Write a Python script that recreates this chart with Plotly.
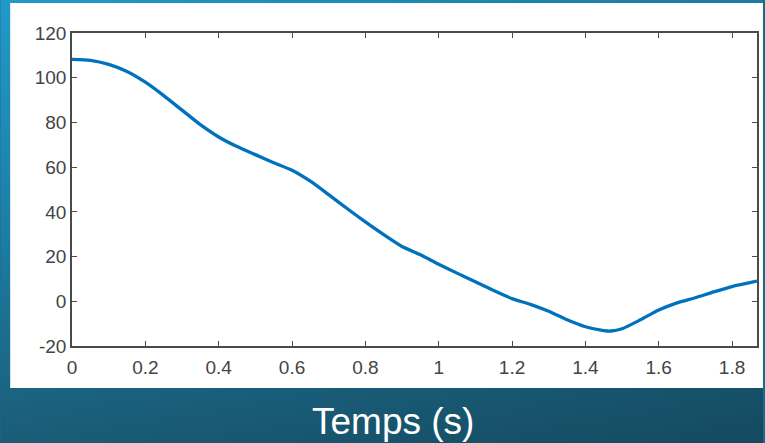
import base64
import plotly.graph_objects as go

# ---- data ----
time_s = [0.00, 0.05, 0.10, 0.15, 0.20, 0.25, 0.30, 0.35, 0.40, 0.45, 0.50, 0.55,
          0.60, 0.65, 0.70, 0.75, 0.80, 0.85, 0.90, 0.95, 1.00, 1.05, 1.10, 1.15,
          1.20, 1.25, 1.30, 1.35, 1.40, 1.45, 1.47, 1.50, 1.55, 1.60, 1.65, 1.70,
          1.75, 1.80, 1.868]
values = [108.2, 107.8, 106.0, 102.8, 98.0, 92.0, 85.5, 79.0, 73.5, 69.2, 65.6, 62.0,
          58.6, 53.7, 47.7, 41.5, 35.5, 29.8, 24.5, 20.8, 16.6, 12.6, 8.7, 4.8,
          1.2, -1.4, -4.5, -8.3, -11.4, -13.1, -13.3, -12.3, -8.3, -3.9, -0.7, 1.6,
          4.2, 6.6, 9.0]
x_ticks = [0, 0.2, 0.4, 0.6, 0.8, 1.0, 1.2, 1.4, 1.6, 1.8]
x_tick_labels = ["0", "0.2", "0.4", "0.6", "0.8", "1", "1.2", "1.4", "1.6", "1.8"]
y_ticks = [-20, 0, 20, 40, 60, 80, 100, 120]
y_tick_labels = ["-20", "0", "20", "40", "60", "80", "100", "120"]
x_title = "Temps (s)"

W, H = 765, 443
L, R, T, B = 72, 6, 33, 97
pw, ph = W - L - R, H - T - B

svg = f'''<svg xmlns="http://www.w3.org/2000/svg" width="{W}" height="{H}" viewBox="0 0 {W} {H}" preserveAspectRatio="none">
<defs>
<linearGradient id="v" x1="0" y1="0" x2="0" y2="1">
<stop offset="0" stop-color="#2299C8"/>
<stop offset="0.5" stop-color="#1D7FA7"/>
<stop offset="1" stop-color="#1A5C77"/>
</linearGradient>
<linearGradient id="h" x1="0" y1="0" x2="1" y2="0">
<stop offset="0" stop-color="#000000" stop-opacity="0"/>
<stop offset="1" stop-color="#000000" stop-opacity="0.2"/>
</linearGradient>
</defs>
<rect x="0" y="0" width="{W}" height="{H}" fill="url(#v)"/>
<rect x="0" y="0" width="{W}" height="{H}" fill="url(#h)"/>
<rect x="10" y="3" width="{W-10}" height="385" fill="#ffffff"/>
</svg>'''
src = "data:image/svg+xml;base64," + base64.b64encode(svg.encode()).decode()

fig = go.Figure()
fig.add_trace(go.Scatter(x=time_s, y=values, mode="lines",
                         line=dict(color="#0072BD", width=3.3, shape="spline", smoothing=0.6),
                         hoverinfo="skip", showlegend=False))

fig.add_layout_image(dict(source=src, xref="paper", yref="paper",
                          x=-L / pw, y=1 + T / ph, sizex=W / pw, sizey=H / ph,
                          xanchor="left", yanchor="top", sizing="stretch",
                          layer="below"))

axis_common = dict(showline=True, linecolor="#4a4a4a", linewidth=1.5, mirror="ticks",
                   ticks="inside", ticklen=5, tickwidth=1.2, tickcolor="#4a4a4a",
                   showgrid=False, zeroline=False,
                   tickfont=dict(family="Liberation Sans, Arial, sans-serif", size=19, color="#444444"))

fig.update_xaxes(range=[0, 1.868], tickvals=x_ticks, ticktext=x_tick_labels,
                 ticklabelstandoff=3, **axis_common)
fig.update_yaxes(range=[-20, 120], tickvals=y_ticks, ticktext=y_tick_labels, **axis_common)

fig.add_annotation(text=x_title, xref="paper", yref="paper",
                   x=(394 - L) / pw, y=(346 - 421) / ph, xanchor="center", yanchor="middle",
                   showarrow=False,
                   font=dict(family="Liberation Sans, Arial, sans-serif", size=37, color="#ffffff"))

fig.update_layout(width=W, height=H, margin=dict(l=L, r=R, t=T, b=B, pad=0),
                  paper_bgcolor="#1B6A8A", plot_bgcolor="#ffffff")

fig.write_html("out.html", config={"displayModeBar": False},
               post_script="document.body.style.margin='0';document.body.style.overflow='hidden';")
